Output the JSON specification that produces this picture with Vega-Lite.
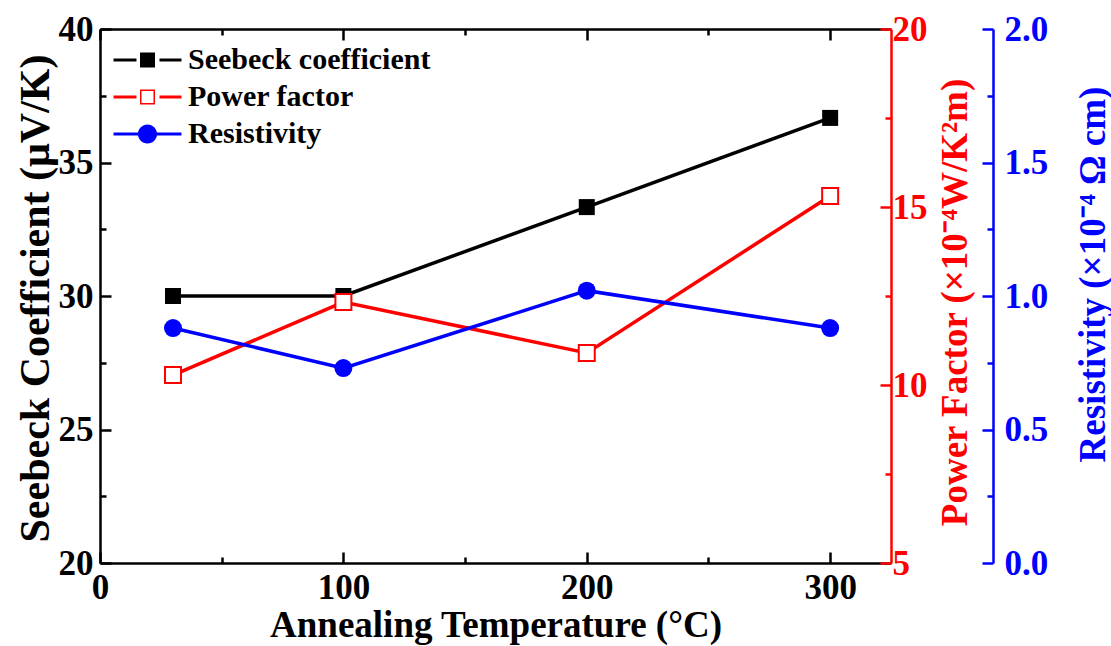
{
  "$schema": "https://vega.github.io/schema/vega-lite/v6.json",
  "width": 791,
  "height": 534,
  "autosize": {"type": "none"},
  "padding": {"left": 100, "top": 29, "right": 220, "bottom": 83},
  "background": "white",
  "config": {
    "view": {"stroke": null},
    "font": "Liberation Serif",
    "axis": {
      "grid": false,
      "labelFont": "Liberation Serif",
      "labelFontWeight": "bold",
      "labelFontSize": 35,
      "labelColor": "black",
      "labelFlush": false,
      "labelOverlap": false,
      "titleFont": "Liberation Serif",
      "titleFontWeight": "bold",
      "titleFontSize": 37,
      "titleColor": "black",
      "domainWidth": 2.5,
      "domainColor": "black",
      "tickWidth": 2.5,
      "tickColor": "black"
    }
  },
  "data": {
    "values": [
      {"temp": 30, "seebeck": 30.0, "pf": 10.28, "rho": 0.88},
      {"temp": 100, "seebeck": 30.0, "pf": 12.33, "rho": 0.73},
      {"temp": 200, "seebeck": 33.33, "pf": 10.9, "rho": 1.02},
      {"temp": 300, "seebeck": 36.67, "pf": 15.31, "rho": 0.88}
    ]
  },
  "resolve": {"scale": {"y": "independent"}, "axis": {"x": "independent", "y": "independent"}},
  "layer": [
    {
      "mark": {"type": "line", "strokeWidth": 3.5, "point": {"shape": "square", "filled": true, "size": 256, "opacity": 1}},
      "encoding": {
        "x": {
          "field": "temp", "type": "quantitative",
          "scale": {"domain": [0, 325], "nice": false, "zero": false},
          "axis": {
            "orient": "bottom",
            "values": [0, 50, 100, 150, 200, 250, 300],
            "labelExpr": "datum.value % 100 === 0 ? datum.label : ''",
            "tickSize": {"condition": {"test": "datum.value % 100 === 0", "value": -11}, "value": -6},
            "labelPadding": 18,
            "title": "Annealing Temperature (°C)",
            "titleBaseline": "middle",
            "titleY": 62
          }
        },
        "y": {
          "field": "seebeck", "type": "quantitative",
          "scale": {"domain": [20, 40], "nice": false, "zero": false},
          "axis": {
            "orient": "left",
            "values": [20, 22.5, 25, 27.5, 30, 32.5, 35, 37.5, 40],
            "labelExpr": "datum.value % 5 === 0 ? datum.label : ''",
            "tickSize": {"condition": {"test": "datum.value % 5 === 0", "value": -11}, "value": -6},
            "labelPadding": 18,
            "title": "Seebeck Coefficient (μV/K)",
            "titleFontSize": 42,
            "titleAngle": 270,
            "titleAlign": "center",
            "titleBaseline": "middle",
            "titleX": -65,
            "titleY": 269
          }
        },
        "color": {
          "datum": "Seebeck coefficient", "type": "nominal",
          "scale": {"domain": ["Seebeck coefficient", "Power factor", "Resistivity"], "range": ["black", "red", "blue"]},
          "legend": {
            "orient": "none",
            "legendX": 32.5,
            "legendY": 16,
            "title": null,
            "padding": 0,
            "symbolSize": 225,
            "labelOffset": 25.5,
            "labelFont": "Liberation Serif",
            "labelFontWeight": "bold",
            "labelFontSize": 30,
            "labelColor": "black",
            "labelLimit": 0,
            "rowPadding": 7,
            "encode": {
              "symbols": {
                "update": {
                  "shape": {"signal": "datum.value === 'Resistivity' ? 'M-4.53,-0.2H-1.2V0.2H-4.53ZM1.2,-0.2H4.53V0.2H1.2ZM-1.27,0A1.27,1.27,0,1,1,1.27,0A1.27,1.27,0,1,1,-1.27,0Z' : datum.value === 'Power factor' ? 'M-4.53,-0.2H-1.47V0.2H-4.53ZM1.6,-0.2H4.53V0.2H1.6ZM-1,-1H1V1H-1ZM-0.8,-0.8V0.8H0.8V-0.8Z' : 'M-4.53,-0.2H-1.47V0.2H-4.53ZM1.6,-0.2H4.53V0.2H1.6ZM-1,-1H1V1H-1Z'"},
                  "strokeWidth": {"value": 0},
                  "opacity": {"value": 1},
                  "fillOpacity": {"value": 1}
                }
              }
            }
          }
        }
      }
    },
    {
      "mark": {"type": "line", "strokeWidth": 3.5, "point": {"shape": "square", "filled": false, "fill": "white", "size": 256, "strokeWidth": 2, "opacity": 1}},
      "encoding": {
        "x": {
          "field": "temp", "type": "quantitative",
          "axis": {
            "orient": "top",
            "values": [0, 50, 100, 150, 200, 250, 300],
            "labels": false,
            "title": null,
            "tickSize": {"condition": {"test": "datum.value % 100 === 0", "value": -11}, "value": -6}
          }
        },
        "y": {
          "field": "pf", "type": "quantitative",
          "scale": {"domain": [5, 20], "nice": false, "zero": false},
          "axis": {
            "orient": "right",
            "values": [5, 7.5, 10, 12.5, 15, 17.5, 20],
            "labelExpr": "datum.value % 5 === 0 ? datum.label : ''",
            "tickSize": {"condition": {"test": "datum.value % 5 === 0", "value": -11}, "value": -6},
            "labelPadding": 12,
            "domainColor": "red",
            "tickColor": "red",
            "labelColor": "red",
            "titleColor": "red",
            "title": "Power Factor (×10⁻⁴W/K²m)",
            "titleAngle": 270,
            "titleAlign": "center",
            "titleBaseline": "middle",
            "titleX": 64,
            "titleY": 273
          }
        },
        "color": {"datum": "Power factor", "type": "nominal"}
      }
    },
    {
      "mark": {"type": "line", "strokeWidth": 3.5, "point": {"shape": "circle", "filled": true, "size": 324, "opacity": 1}},
      "encoding": {
        "x": {"field": "temp", "type": "quantitative", "axis": null},
        "y": {
          "field": "rho", "type": "quantitative",
          "scale": {"domain": [0, 2], "nice": false, "zero": false},
          "axis": {
            "orient": "right",
            "offset": 102,
            "values": [0, 0.25, 0.5, 0.75, 1, 1.25, 1.5, 1.75, 2],
            "format": ".1f",
            "labelExpr": "(datum.value * 4) % 2 === 0 ? datum.label : ''",
            "tickSize": {"condition": {"test": "(datum.value * 4) % 2 === 0", "value": -11}, "value": -6},
            "labelPadding": 22,
            "domainColor": "blue",
            "tickColor": "blue",
            "labelColor": "blue",
            "titleColor": "blue",
            "title": "Resistivity (×10⁻⁴ Ω cm)",
            "titleAngle": 270,
            "titleAlign": "center",
            "titleBaseline": "middle",
            "titleX": 100,
            "titleY": 245
          }
        },
        "color": {"datum": "Resistivity", "type": "nominal"}
      }
    }
  ]
}
